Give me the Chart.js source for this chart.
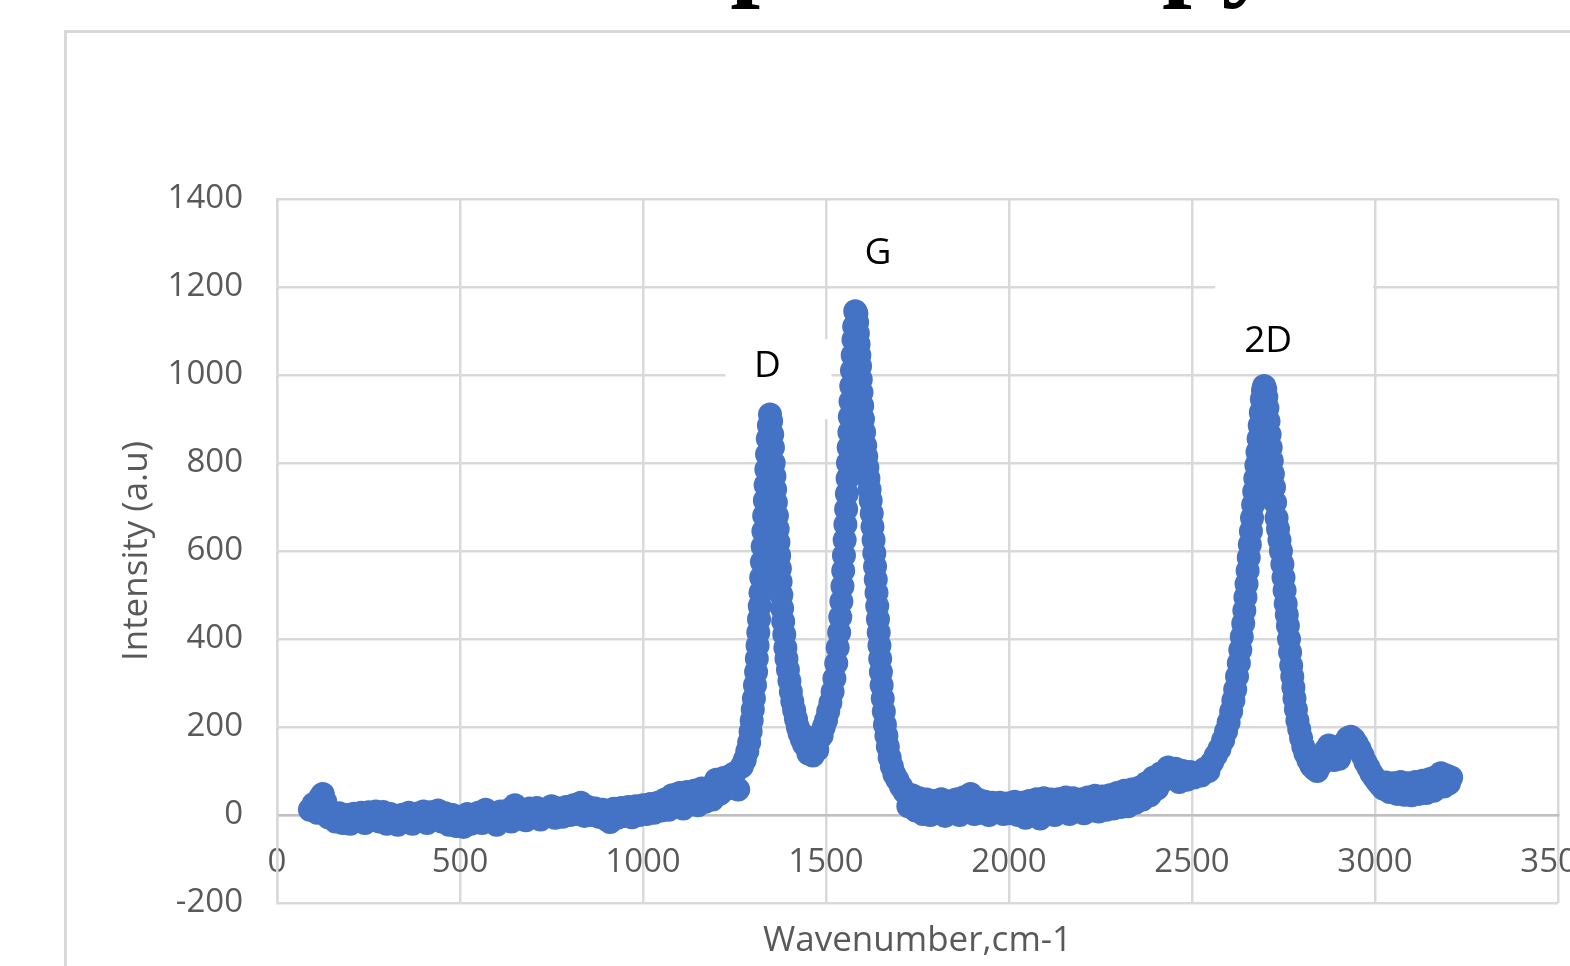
<!DOCTYPE html>
<html>
<head>
<meta charset="utf-8">
<title>Raman Spectroscopy</title>
<script src="https://cdn.jsdelivr.net/npm/chart.js@4.4.1/dist/chart.umd.min.js"></script>
<style>
  html, body { margin: 0; padding: 0; background: #fff; overflow: hidden; }
  body { width: 1570px; height: 966px; position: relative; }
  #pageTitle { position: absolute; left: 311px; top: -103px; font: bold 107px 'Liberation Serif', serif; line-height: 107px; white-space: nowrap; color: #000; }
  #frame { position: absolute; left: 64px; top: 30px; width: 1600px; height: 1000px; border: 3px solid #d9d9d9; }
  #wrap { position: absolute; left: 0; top: 0; width: 1570px; height: 966px; }
</style>
</head>
<body>
<div id="pageTitle">Raman Spectroscopy</div>
<div id="frame"></div>
<div id="wrap"><canvas id="ramanChart"></canvas></div>
<script>
Chart.defaults.font.family = "'Open Sans', sans-serif";
Chart.defaults.color = '#595959';

// Raman spectrum (rows of wavenumber and intensity line up)
const wavenumber = [
  90, 100, 110, 118, 125, 132, 140, 150, 160, 170,
  180, 190, 200, 210, 220, 230, 240, 250, 260, 270,
  280, 290, 300, 310, 320, 330, 340, 350, 360, 370,
  380, 390, 400, 410, 420, 430, 440, 450, 460, 470,
  480, 490, 500, 510, 520, 530, 540, 550, 560, 570,
  580, 590, 600, 610, 620, 630, 640, 650, 660, 670,
  680, 690, 700, 710, 720, 730, 740, 750, 760, 770,
  780, 790, 800, 810, 820, 830, 840, 850, 860, 870,
  880, 890, 900, 910, 920, 930, 940, 950, 960, 970,
  980, 990, 1000, 1010, 1020, 1030, 1040, 1050, 1060, 1070,
  1080, 1090, 1100, 1110, 1120, 1130, 1140, 1150, 1160, 1170,
  1180, 1190, 1200, 1210, 1220, 1230, 1240, 1250, 1260,
  // D band
  1270, 1278, 1285, 1290, 1294, 1297, 1300, 1303, 1306, 1309,
  1311, 1313, 1315, 1317, 1319, 1321, 1323, 1325, 1327, 1329,
  1331, 1333, 1335, 1337, 1339, 1341, 1344, 1347, 1350, 1353,
  1355, 1357, 1359, 1361, 1363, 1366, 1368, 1370, 1372, 1374,
  1376, 1378, 1380, 1383, 1386, 1389, 1392, 1396, 1400, 1404,
  1408, 1413, 1418, 1423, 1428, 1434, 1440, 1446, 1452, 1458,
  1464, 1470, 1476, 1482, 1488, 1494, 1500, 1506, 1512, 1518,
  // G band
  1523, 1528, 1532, 1536, 1539, 1542, 1545, 1547, 1549, 1551,
  1553, 1555, 1557, 1559, 1560, 1562, 1564, 1565, 1567, 1569,
  1571, 1573, 1575, 1577, 1580, 1583, 1585, 1587, 1589, 1591,
  1593, 1595, 1597, 1599, 1601, 1604, 1607, 1610, 1613, 1616,
  1619, 1622, 1625, 1627, 1630, 1632, 1634, 1636, 1638, 1640,
  1642, 1644, 1646, 1648, 1650, 1652, 1655, 1658, 1661, 1665,
  1669, 1674, 1680, 1687, 1695, 1705, 1715,
  1725, 1735, 1745, 1755, 1765, 1775, 1785, 1795, 1805, 1815,
  1825, 1835, 1845, 1855, 1865, 1875, 1885, 1895, 1905, 1915,
  1925, 1935, 1945, 1955, 1965, 1975, 1985, 1995, 2005, 2015,
  2025, 2035, 2045, 2055, 2065, 2075, 2085, 2095, 2105, 2115,
  2125, 2135, 2145, 2155, 2165, 2175, 2185, 2195, 2205, 2215,
  2225, 2235, 2245, 2255, 2265, 2275, 2285, 2295, 2305, 2315,
  2325, 2335, 2345, 2355, 2365, 2375, 2385, 2395, 2405, 2415,
  2425, 2435, 2445, 2455, 2465, 2475, 2485, 2495, 2505, 2515,
  2525, 2535, 2545,
  // 2D band
  2555, 2565, 2575, 2585, 2593, 2600, 2607, 2613, 2618, 2623,
  2628, 2632, 2636, 2640, 2643, 2646, 2649, 2652, 2655, 2658,
  2661, 2664, 2667, 2670, 2673, 2676, 2679, 2682, 2685, 2688,
  2691, 2694, 2697, 2700, 2703, 2706, 2709, 2712, 2715, 2718,
  2721, 2724, 2727, 2731, 2735, 2739, 2743, 2747, 2750, 2753,
  2756, 2759, 2762, 2765, 2768, 2771, 2774, 2777, 2780, 2784,
  2788, 2793, 2798, 2804, 2810, 2818, 2826, 2834, 2842, 2850,
  2858, 2866, 2874, 2882, 2888, 2895, 2902, 2910, 2918, 2926,
  2934, 2942, 2950, 2958, 2966, 2974, 2982, 2990, 2998, 3006,
  3014, 3022, 3030, 3040, 3050, 3060, 3070, 3080, 3090, 3100,
  3110, 3120, 3130, 3140, 3150, 3160, 3170, 3180, 3188, 3195,
  3202, 3208
];

const intensity = [
  12, 25, 5, 40, 48, 30, -5, 2, -15, 4,
  -18, 0, -20, 3, -12, 5, -18, 6, -10, 8,
  -15, 7, -20, 2, -12, -22, 0, -15, 5, -20,
  3, -10, 8, -18, 6, -8, 10, -15, 4, -22,
  0, -25, -5, -27, 2, -20, -8, 5, -18, 12,
  -10, 3, -22, 8, -12, 10, -15, 22, -8, 12,
  -12, 15, -5, 16, -10, 12, -2, 20, -6, 15,
  -4, 18, 0, 22, 2, 28, -2, 18, 0, 15,
  -4, 12, -10, -16, 14, -6, 16, -2, 18, -5,
  20, 0, 22, 2, 25, 5, 28, 10, 35, 12,
  45, 20, 50, 15, 52, 25, 55, 22, 60, 30,
  62, 35, 80, 48, 84, 60, 90, 95, 58,
  // D band
  110, 125, 145, 165, 190, 215, 240, 265, 295, 325,
  355, 385, 415, 445, 475, 505, 540, 575, 610, 645,
  680, 715, 750, 785, 820, 855, 885, 910, 895, 865,
  835, 800, 770, 740, 710, 680, 650, 620, 590, 560,
  530, 500, 470, 440, 410, 380, 355, 330, 305, 280,
  258, 238, 218, 200, 185, 172, 160, 178, 140, 165,
  135, 158, 148, 175, 180, 200, 215, 235, 255, 280,
  // G band
  310, 345, 380, 415, 450, 485, 520, 555, 590, 625,
  660, 695, 730, 765, 800, 835, 870, 905, 940, 975,
  1010, 1045, 1080, 1110, 1145, 1140, 1120, 1095, 1070, 1045,
  1020, 990, 960, 930, 900, 870, 840, 815, 790, 765,
  740, 715, 685, 655, 625, 595, 565, 535, 505, 475,
  445, 415, 385, 355, 325, 295, 265, 235, 205, 180,
  155, 130, 110, 92, 80, 65, 52,
  20, 45, 10, 38, 2, 35, 0, 32, 5, 36,
  -2, 30, 4, 35, 0, 40, 8, 48, 2, 35,
  5, 30, 0, 28, 6, 28, 2, 26, 4, 30,
  0, 28, -6, 32, 2, 36, -8, 38, 4, 35,
  0, 36, 6, 40, 2, 38, 8, 35, 4, 40,
  10, 44, 8, 42, 12, 45, 15, 50, 18, 55,
  20, 58, 28, 62, 35, 72, 45, 85, 60, 95,
  80, 108, 90, 105, 75, 100, 80, 98, 85, 95,
  90, 105, 100,
  // 2D band
  120, 135, 150, 170, 190, 210, 235, 260, 285, 315,
  345, 375, 405, 435, 465, 495, 525, 555, 585, 615,
  645, 675, 705, 735, 765, 795, 825, 855, 885, 915,
  945, 965, 975, 968, 950, 925, 895, 865, 835, 805,
  775, 745, 710, 675, 650, 625, 600, 570, 540, 510,
  480, 455, 430, 400, 370, 340, 315, 290, 265, 240,
  215, 195, 175, 155, 140, 125, 112, 105, 100, 112,
  130, 148, 158, 140, 125, 150, 128, 152, 165, 175,
  178, 172, 162, 150, 135, 120, 108, 95, 85, 76,
  68, 60, 74, 52, 72, 48, 75, 46, 72, 45,
  75, 48, 78, 50, 82, 55, 88, 95, 65, 90,
  72, 85
];

// peak labels, anchored in data units
const peakNames = ['D', 'G', '2D'];
const peakLabelX = [1340, 1642, 2708];
const peakLabelY = [1020, 1277, 1077];

const spectrum = wavenumber.map((w, i) => ({ x: w, y: intensity[i] }));

// white label boxes that hide the gridlines behind them, like the Excel data labels
const peakLabels = {
  id: 'peakLabels',
  beforeDatasetsDraw(chart, args, opts) {
    const { ctx, scales: { x, y } } = chart;
    ctx.save();
    ctx.font = opts.font;
    ctx.textAlign = 'center';
    ctx.textBaseline = 'middle';
    peakNames.forEach((name, i) => {
      const px = x.getPixelForValue(peakLabelX[i]);
      const py = y.getPixelForValue(peakLabelY[i]);
      const b = opts.boxes[i];
      ctx.fillStyle = '#ffffff';
      ctx.fillRect(px + b[0], py + b[2], b[1] - b[0], b[3] - b[2]);
      ctx.fillStyle = '#000000';
      ctx.fillText(name, px, py);
    });
    ctx.restore();
  }
};

const ctx = document.getElementById('ramanChart').getContext('2d');
new Chart(ctx, {
  type: 'scatter',
  data: {
    datasets: [{
      label: 'Raman',
      data: spectrum,
      backgroundColor: '#4472c4',
      borderColor: '#4472c4',
      pointRadius: 12,
      pointBorderWidth: 0,
      showLine: false
    }]
  },
  options: {
    responsive: true,
    maintainAspectRatio: false,
    animation: false,
    events: [],
    layout: {
      autoPadding: false,
      padding: { left: 0, right: 12, top: 199, bottom: 63 }
    },
    plugins: {
      legend: { display: false },
      tooltip: { enabled: false },
      peakLabels: {
        font: "37px 'Open Sans'",
        boxes: [[-42, 64, -27, 53], [-40, 40, -30, 30], [-53, 105, -61, 24]]
      }
    },
    scales: {
      x: {
        type: 'linear',
        position: { y: 0 },
        min: 0,
        max: 3500,
        ticks: {
          stepSize: 500,
          padding: 28,
          maxRotation: 0,
          font: { size: 33 },
          color: '#595959',
          callback: (value) => String(value)
        },
        grid: { color: '#d9d9d9', lineWidth: 2.5, drawTicks: false },
        border: { color: '#bfbfbf', width: 2.5 },
        title: {
          display: true,
          text: 'Wavenumber,cm-1',
          font: { size: 35 },
          color: '#595959',
          padding: { top: 9, bottom: 0 }
        },
        afterFit(scale) {
          scale.paddingLeft = 0;
          scale.paddingRight = 0;
        }
      },
      y: {
        type: 'linear',
        min: -200,
        max: 1400,
        ticks: {
          stepSize: 200,
          padding: 34,
          font: { size: 33 },
          color: '#595959',
          callback: (value) => String(value)
        },
        grid: { color: '#d9d9d9', lineWidth: 2.5, drawTicks: false },
        border: { color: '#d9d9d9', width: 2.5 },
        title: {
          display: true,
          text: 'Intensity (a.u)',
          font: { size: 35 },
          color: '#595959',
          padding: { top: 116, bottom: 0 }
        },
        afterFit(scale) {
          scale.width = 277;
          scale.paddingTop = 0;
          scale.paddingBottom = 0;
        }
      }
    }
  },
  plugins: [peakLabels]
});
</script>
</body>
</html>
